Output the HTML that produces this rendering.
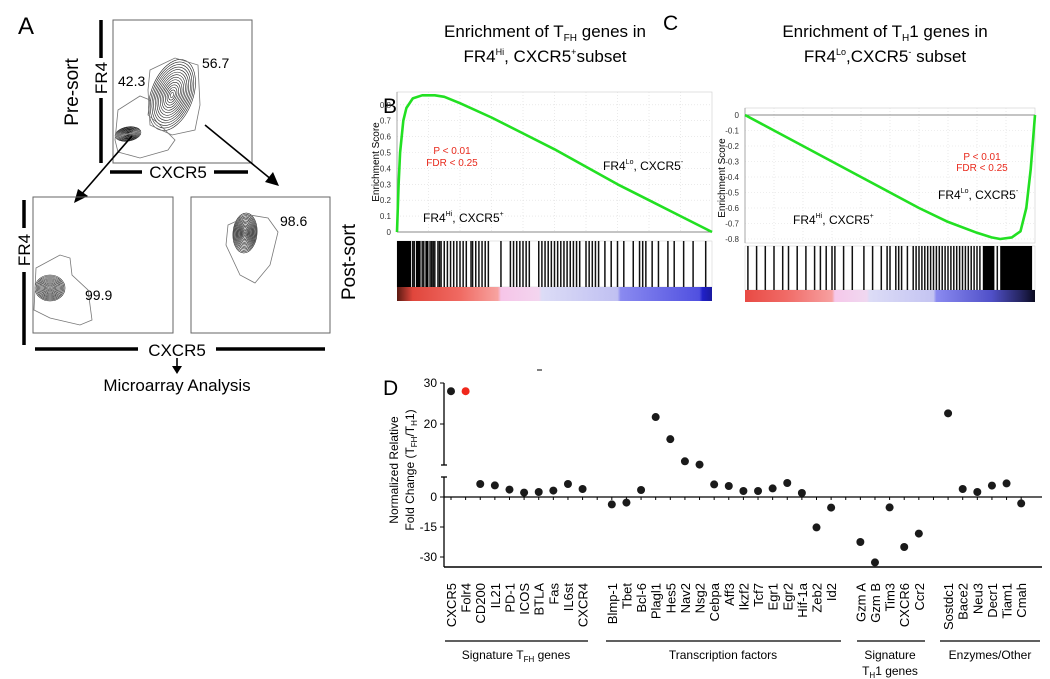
<!DOCTYPE html>
<html><head><meta charset="utf-8"><style>
html,body{margin:0;padding:0;background:#fff}
svg{display:block;font-family:"Liberation Sans",Arial,sans-serif}
</style></head><body>
<svg id="fig" width="1050" height="679" viewBox="0 0 1050 679">
<!-- PANEL A -->
<g>
<text x="18" y="34" font-size="24">A</text>
<text transform="translate(78,92) rotate(-90)" font-size="19" text-anchor="middle">Pre-sort</text>
<line x1="101" y1="20" x2="101" y2="58" stroke="#000" stroke-width="3.5"/>
<line x1="101" y1="98" x2="101" y2="163" stroke="#000" stroke-width="3.5"/>
<text transform="translate(107,78) rotate(-90)" font-size="17" text-anchor="middle">FR4</text>
<rect x="113" y="20" width="139" height="143" fill="none" stroke="#666" stroke-width="1"/>
<line x1="110" y1="172" x2="142" y2="172" stroke="#000" stroke-width="3.5"/>
<line x1="214" y1="172" x2="248" y2="172" stroke="#000" stroke-width="3.5"/>
<text x="178" y="178" font-size="17" text-anchor="middle">CXCR5</text>
<text x="118" y="86" font-size="14">42.3</text>
<text x="202" y="68" font-size="14">56.7</text>
<g id="contA" fill="none" stroke="#222" stroke-width="0.6"></g>
<polygon points="118,110 140,96 150,100 148,115 160,125 175,140 168,150 140,158 118,152 115,140" fill="none" stroke="#777" stroke-width="0.8"/>
<polygon points="150,70 175,58 198,65 200,105 195,130 172,135 150,125 148,90" fill="none" stroke="#777" stroke-width="0.8"/>
<line x1="132" y1="136" x2="80" y2="196" stroke="#000" stroke-width="1.6"/>
<polygon points="74,203 78,189 88,196" fill="#000"/>
<line x1="205" y1="125" x2="272" y2="180" stroke="#000" stroke-width="1.6"/>
<polygon points="279,186 265,182 273,172" fill="#000"/>
<rect x="33" y="197" width="140" height="136" fill="none" stroke="#666"/>
<rect x="191" y="197" width="139" height="136" fill="none" stroke="#666"/>
<polygon points="36,268 60,255 70,258 72,275 88,290 92,320 80,325 50,318 34,310" fill="none" stroke="#777" stroke-width="0.8"/>
<polygon points="228,225 250,215 268,218 278,232 270,265 255,283 240,275 226,245" fill="none" stroke="#777" stroke-width="0.8"/>
<text x="85" y="300" font-size="14">99.9</text>
<text x="280" y="226" font-size="14">98.6</text>
<line x1="24" y1="200" x2="24" y2="228" stroke="#000" stroke-width="3.5"/>
<line x1="24" y1="272" x2="24" y2="345" stroke="#000" stroke-width="3.5"/>
<text transform="translate(30,250) rotate(-90)" font-size="17" text-anchor="middle">FR4</text>
<text transform="translate(355,262) rotate(-90)" font-size="19" text-anchor="middle">Post-sort</text>
<line x1="35" y1="349" x2="138" y2="349" stroke="#000" stroke-width="3.5"/>
<line x1="216" y1="349" x2="325" y2="349" stroke="#000" stroke-width="3.5"/>
<text x="177" y="356" font-size="17" text-anchor="middle">CXCR5</text>
<line x1="177" y1="358" x2="177" y2="370" stroke="#000" stroke-width="1.6"/>
<polygon points="172,366 182,366 177,374" fill="#000"/>
<text x="177" y="391" font-size="17" text-anchor="middle">Microarray Analysis</text>
</g>

<!-- PANEL B -->
<g>
<text x="383" y="113" font-size="21">B</text>
<text x="545" y="37" font-size="17" text-anchor="middle">Enrichment of T<tspan font-size="10" dy="4">FH</tspan><tspan dy="-4"> genes in</tspan></text>
<text x="545" y="62" font-size="17" text-anchor="middle">FR4<tspan font-size="9" dy="-7">Hi</tspan><tspan dy="7">, CXCR5</tspan><tspan font-size="9" dy="-7">+</tspan><tspan dy="7">subset</tspan></text>
<g id="gseaB"></g>
<text transform="translate(379,162) rotate(-90)" font-size="10" text-anchor="middle">Enrichment Score</text>
<text x="452" y="154" font-size="10" fill="#e8291c" text-anchor="middle">P &lt; 0.01</text>
<text x="452" y="166" font-size="10" fill="#e8291c" text-anchor="middle">FDR &lt; 0.25</text>
<text x="603" y="170" font-size="12">FR4<tspan font-size="7" dy="-6">Lo</tspan><tspan dy="6">, CXCR5</tspan><tspan font-size="7" dy="-6">-</tspan></text>
<text x="423" y="222" font-size="12">FR4<tspan font-size="7" dy="-6">Hi</tspan><tspan dy="6">, CXCR5</tspan><tspan font-size="7" dy="-6">+</tspan></text>
</g>

<!-- PANEL C -->
<g>
<text x="663" y="30" font-size="21">C</text>
<text x="885" y="37" font-size="17" text-anchor="middle">Enrichment of T<tspan font-size="10" dy="4">H</tspan><tspan dy="-4">1  genes in</tspan></text>
<text x="885" y="62" font-size="17" text-anchor="middle">FR4<tspan font-size="9" dy="-7">Lo</tspan><tspan dy="7">,CXCR5</tspan><tspan font-size="9" dy="-7">-</tspan><tspan dy="7"> subset</tspan></text>
<g id="gseaC"></g>
<text transform="translate(725,178) rotate(-90)" font-size="10" text-anchor="middle">Enrichment Score</text>
<text x="982" y="160" font-size="10" fill="#e8291c" text-anchor="middle">P &lt; 0.01</text>
<text x="982" y="171" font-size="10" fill="#e8291c" text-anchor="middle">FDR &lt; 0.25</text>
<text x="938" y="199" font-size="12">FR4<tspan font-size="7" dy="-6">Lo</tspan><tspan dy="6">, CXCR5</tspan><tspan font-size="7" dy="-6">-</tspan></text>
<text x="793" y="224" font-size="12">FR4<tspan font-size="7" dy="-6">Hi</tspan><tspan dy="6">, CXCR5</tspan><tspan font-size="7" dy="-6">+</tspan></text>
</g>

<!-- PANEL D -->
<g>
<text x="383" y="395" font-size="21">D</text>
<line x1="537" y1="370" x2="542" y2="370" stroke="#000" stroke-width="1"/>
<text transform="translate(398,470) rotate(-90)" font-size="12" text-anchor="middle">Normalized Relative</text>
<text transform="translate(414,470) rotate(-90)" font-size="12" text-anchor="middle">Fold Change (T<tspan font-size="8" dy="3">FH</tspan><tspan dy="-3">/T</tspan><tspan font-size="8" dy="3">H</tspan><tspan dy="-3">1)</tspan></text>
<g id="chartD"></g>
<g font-size="12" text-anchor="middle">
<line x1="445" y1="641" x2="588" y2="641" stroke="#000" stroke-width="1.3"/>
<text x="516" y="659">Signature T<tspan font-size="8" dy="3">FH</tspan><tspan dy="-3"> genes</tspan></text>
<line x1="606" y1="641" x2="841" y2="641" stroke="#000" stroke-width="1.3"/>
<text x="723" y="659">Transcription factors</text>
<line x1="857" y1="641" x2="925" y2="641" stroke="#000" stroke-width="1.3"/>
<text x="890" y="659">Signature</text>
<text x="890" y="675">T<tspan font-size="8" dy="3">H</tspan><tspan dy="-3">1 genes</tspan></text>
<line x1="940" y1="641" x2="1040" y2="641" stroke="#000" stroke-width="1.3"/>
<text x="990" y="659">Enzymes/Other</text>
</g>
</g>
</svg>
<script>
// ---- Panel D data ----
const genes = ["CXCR5","Folr4","CD200","IL21","PD-1","ICOS","BTLA","Fas","IL6st","CXCR4",
 "Blmp-1","Tbet","Bcl-6","Plagl1","Hes5","Nav2","Nsg2","Cebpa","Aff3","Ikzf2","Tcf7","Egr1","Egr2","Hif-1a","Zeb2","Id2",
 "Gzm A","Gzm B","Tim3","CXCR6","Ccr2",
 "Sostdc1","Bace2","Neu3","Decr1","Tiam1","Cmah"];
const slots = [0,1,2,3,4,5,6,7,8,9, 11,12,13,14,15,16,17,18,19,20,21,22,23,24,25,26, 28,29,30,31,32, 34,35,36,37,38,39];
const foldChange = [28,28,6.5,5.8,3.7,2.2,2.5,3.2,6.5,4,
 -3.7,-2.8,3.5,21.7,16.3,10.9,10.1,6.3,5.5,3,3,4.3,7,2,-15.2,-5.3,
 -22.5,-32.7,-5.2,-25,-18.3,
 22.6,4,2.5,5.7,6.8,-3.2];
const highlighted = ["Folr4"];
const lowerTicks = [0,-15,-30];
const upperTicks = [20,30];

// ---- GSEA data ----
const esB_t = [0,0.005,0.01,0.02,0.03,0.05,0.08,0.12,0.15,0.2,0.3,0.4,0.5,0.6,0.7,0.8,0.9,1];
const esB_v = [0,0.3,0.5,0.7,0.78,0.84,0.86,0.86,0.85,0.81,0.72,0.62,0.52,0.41,0.3,0.2,0.1,0];
const esC_t = [0,0.1,0.2,0.3,0.4,0.5,0.6,0.7,0.8,0.85,0.88,0.92,0.95,0.97,0.985,1];
const esC_v = [0,-0.1,-0.2,-0.3,-0.4,-0.5,-0.6,-0.69,-0.76,-0.79,-0.8,-0.79,-0.75,-0.6,-0.35,0];
const ticksB = [0,0.1,0.2,0.3,0.4,0.5,0.6,0.7,0.8];
const ticksC = [0,-0.1,-0.2,-0.3,-0.4,-0.5,-0.6,-0.7,-0.8];
const blocksB = [[0,0.045],[0.06,0.075],[0.09,0.1]];
const blocksC = [[0.82,0.86],[0.88,0.99]];
const hitsB = [0.05,0.055,0.08,0.085,0.105,0.11,0.115,0.12,0.13,0.135,0.14,0.15,0.16,0.17,0.18,0.19,0.2,0.21,0.22,0.235,0.24,0.25,0.26,0.27,0.28,0.29,0.33,0.36,0.37,0.38,0.39,0.4,0.41,0.42,0.45,0.46,0.47,0.48,0.49,0.5,0.51,0.52,0.53,0.54,0.55,0.56,0.57,0.58,0.6,0.61,0.62,0.63,0.64,0.66,0.68,0.7,0.72,0.75,0.77,0.78,0.79,0.81,0.83,0.86,0.88,0.91,0.94,0.98];
const hitsC = [0.01,0.04,0.07,0.1,0.13,0.15,0.18,0.21,0.24,0.26,0.28,0.3,0.31,0.34,0.37,0.41,0.44,0.47,0.49,0.5,0.52,0.53,0.54,0.56,0.58,0.59,0.6,0.61,0.62,0.63,0.64,0.65,0.66,0.67,0.68,0.69,0.7,0.71,0.72,0.73,0.74,0.75,0.76,0.77,0.78,0.79,0.8,0.81,0.87];

const NS="http://www.w3.org/2000/svg";
function mk(tag, attrs, parent){const e=document.createElementNS(NS,tag);for(const k in attrs)e.setAttribute(k,attrs[k]);parent.appendChild(e);return e;}

// Panel A contours (decorative)
(function(){
 const g=document.getElementById('contA');
 function cluster(cx,cy,rx,ry,rot,n){for(let i=1;i<=n;i++){const f=i/n;mk('ellipse',{cx:cx,cy:cy,rx:rx*f,ry:ry*f,transform:`rotate(${rot} ${cx} ${cy})`},g);}}
 cluster(172,95,21,37,20,14);
 cluster(128,134,13,7,-10,12);
 cluster(50,288,15,13,0,13);
 cluster(245,233,12,20,5,15);
})();

function gsea(gid, x0, x1, yZero, pxPer, ticks, tArr, vArr, hits, blocks, barTop, barBot, colTop, colBot, stops, plotTop, plotBot, name){
 const g=document.getElementById(gid);
 const yS=v=>yZero - v*pxPer; const xS=t=>x0+t*(x1-x0);
 mk('rect',{x:x0,y:plotTop,width:x1-x0,height:plotBot-plotTop,fill:'#fff',stroke:'#ccc','stroke-width':0.6},g);
 for(let i=1;i<10;i++){mk('line',{x1:xS(i/10),x2:xS(i/10),y1:plotTop,y2:plotBot,stroke:'#ddd','stroke-dasharray':'1,2','stroke-width':0.6},g);}
 ticks.forEach(t=>{
  mk('line',{x1:x0,x2:x1,y1:yS(t),y2:yS(t),stroke:'#ddd','stroke-dasharray':'1,2','stroke-width':0.6},g);
  const tx=mk('text',{x:x0-6,y:yS(t)+3,'font-size':8,'text-anchor':'end',fill:'#333'},g);tx.textContent=String(t);
  
  
 });
 mk('line',{x1:x0,x2:x1,y1:yZero,y2:yZero,stroke:'#888','stroke-width':1},g);
 mk('line',{x1:x0,x2:x0,y1:plotTop,y2:plotBot,stroke:'#999','stroke-width':0.8},g);
 const pts=tArr.map((t,i)=>xS(t).toFixed(1)+','+yS(vArr[i]).toFixed(1)).join(' ');
 const pl=mk('polyline',{points:pts,fill:'none',stroke:'#22e022','stroke-width':2.6,'stroke-linejoin':'round'},g);
 
 
 mk('rect',{x:x0,y:barTop,width:x1-x0,height:barBot-barTop,fill:'#fff',stroke:'#ccc','stroke-width':0.5},g);
 blocks.forEach(b=>{
  const r=mk('rect',{x:xS(b[0]),y:barTop,width:xS(b[1])-xS(b[0]),height:barBot-barTop,fill:'#000'},g);
  
  
 });
 hits.forEach(h=>{
  const l=mk('line',{x1:xS(h),x2:xS(h),y1:barTop,y2:barBot,stroke:'#111','stroke-width':1.5},g);
  
  
 });
 const gid2=gid+'grad';const defs=mk('defs',{},g);const lg=mk('linearGradient',{id:gid2,x1:0,x2:1,y1:0,y2:0},defs);
 stops.forEach(s=>mk('stop',{offset:s[0],'stop-color':s[1]},lg));
 const cb=mk('rect',{x:x0,y:colTop,width:x1-x0,height:colBot-colTop,fill:`url(#${gid2})`},g);
 
 
}
gsea('gseaB',397,712,232,159,ticksB,esB_t,esB_v,hitsB,blocksB,241,287,287,301,
 [[0,'#5a1a12'],[0.05,'#e0463c'],[0.2,'#f06a62'],[0.32,'#f7a3a0'],[0.33,'#f6c5e8'],[0.45,'#f3d5ef'],[0.46,'#dcdcf6'],[0.7,'#c0c0f2'],[0.71,'#8a8af0'],[0.96,'#5050e0'],[0.97,'#2020c8'],[1,'#1a1aa0']],
 92,232,'b');
gsea('gseaC',745,1035,115,155,ticksC,esC_t,esC_v,hitsC,blocksC,246,290,290,302,
 [[0,'#e84a44'],[0.14,'#f06a66'],[0.3,'#f7a0a0'],[0.31,'#f6c8ea'],[0.42,'#f0d8f0'],[0.43,'#dcdcf6'],[0.65,'#c4c4f2'],[0.66,'#8a8af0'],[0.85,'#5050c8'],[0.95,'#252560'],[1,'#0a0a20']],
 108,243,'c');

// Panel D chart
(function(){
 const g=document.getElementById('chartD');
 const xAxis=444, xEnd=1042, x0=451, step=14.62;
 const xS=s=>x0+s*step;
 const yLow=v=>497-v*2.0;
 const yUp=v=>424-(v-20)*4.1;
 const yS=v=>v>=10?yUp(v):yLow(v);
 mk('line',{x1:xAxis,x2:xAxis,y1:383,y2:465,stroke:'#000','stroke-width':1.3},g);
 mk('line',{x1:xAxis,x2:xAxis,y1:477,y2:567,stroke:'#000','stroke-width':1.3},g);
 mk('line',{x1:xAxis-3,x2:xAxis+3,y1:465,y2:465,stroke:'#000','stroke-width':1.3},g);
 mk('line',{x1:xAxis-3,x2:xAxis+3,y1:477,y2:477,stroke:'#000','stroke-width':1.3},g);
 upperTicks.forEach(t=>{mk('line',{x1:xAxis-4,x2:xAxis,y1:yUp(t),y2:yUp(t),stroke:'#000'},g);
  const tx=mk('text',{x:xAxis-7,y:yUp(t)+4,'font-size':12,'text-anchor':'end'},g);tx.textContent=t;
  
  });
 lowerTicks.forEach(t=>{mk('line',{x1:xAxis-4,x2:xAxis,y1:yLow(t),y2:yLow(t),stroke:'#000'},g);
  const tx=mk('text',{x:xAxis-7,y:yLow(t)+4,'font-size':12,'text-anchor':'end'},g);tx.textContent=t;
  
  });
 mk('line',{x1:xAxis,x2:xEnd,y1:yLow(0),y2:yLow(0),stroke:'#000','stroke-width':1.3},g);
 mk('line',{x1:xAxis,x2:xEnd,y1:567,y2:567,stroke:'#000','stroke-width':1.5},g);
 for(let s=0;s<=39;s++){mk('line',{x1:xS(s),x2:xS(s),y1:yLow(0),y2:yLow(0)+3,stroke:'#000'},g);}
 genes.forEach((name,i)=>{
  const x=xS(slots[i]);
  const c=mk('circle',{cx:x,cy:yS(foldChange[i]),r:4,fill:highlighted.includes(name)?'#f0281c':'#1a1a1a'},g);
  
  
  const t=mk('text',{transform:`translate(${x+5},583) rotate(-90)`,'font-size':13,'text-anchor':'end'},g);
  t.textContent=name;
  
  
 });
})();
</script>
</body></html>
